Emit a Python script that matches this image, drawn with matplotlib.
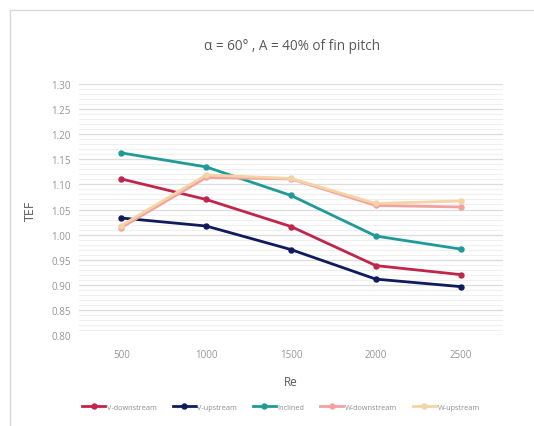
import numpy as np
import matplotlib.pyplot as plt
from matplotlib.lines import Line2D

plt.rcParams['font.family'] = ['Open Sans', 'DejaVu Sans']

# Data
re_labels = ['500', '1000', '1500', '2000', '2500']
v_down = [1.111, 1.070, 1.016, 0.938, 0.920]
v_up = [1.033, 1.017, 0.970, 0.911, 0.896]
inclined = [1.163, 1.135, 1.078, 0.997, 0.971]
w_down = [1.014, 1.114, 1.111, 1.058, 1.055]
w_up = [1.018, 1.119, 1.112, 1.062, 1.067]

series = [('V-downstream', v_down, '#C0264B'),
          ('V-upstream', v_up, '#0F1B5C'),
          ('Inclined', inclined, '#1F9A98'),
          ('W-downstream', w_down, '#F2A19E'),
          ('W-upstream', w_up, '#F4D3A6')]

W, H = 534, 427
fig = plt.figure(figsize=(W/100, H/100), dpi=100)
ax = fig.add_axes([79/W, 1-335.7/H, (503-79)/W, (335.7-85.3)/H])

x = np.arange(len(re_labels))
for name, vals, col in series:
    ax.plot(x, vals, '-o', color=col, lw=2.0, ms=3.6, label=name, zorder=3)

ax.set_xlim(-0.5, 4.5)
ax.set_ylim(0.80, 1.30)
ax.set_xticks(x)
ax.set_xticklabels(re_labels)
ax.set_yticks(np.arange(0.80, 1.301, 0.05))
ax.set_yticklabels(['%.2f' % v for v in np.arange(0.80, 1.301, 0.05)])
ax.set_yticks(np.arange(0.80, 1.30, 0.01), minor=True)
ax.grid(axis='y', which='major', color='#dcdcdc', lw=0.9)
ax.grid(axis='y', which='minor', color='#f0f0f0', lw=0.8)
ax.set_axisbelow(True)
for s in ax.spines.values():
    s.set_visible(False)
ax.tick_params(which='both', length=0, labelsize=7, colors='#959595', pad=6)
ax.tick_params(axis='x', pad=10)

ax.set_xlabel('Re', fontsize=8.5, color='#595959', labelpad=11)
ax.set_ylabel('TEF', fontsize=9, color='#595959', labelpad=10)
fig.text(292/W, 1-47/H, '\u03b1 = 60\u00b0 , A = 40% of fin pitch',
         ha='center', va='center', fontsize=9.8, color='#595959')

leg = fig.legend(loc='center', bbox_to_anchor=(281/W, 1-408/H), ncol=5,
                 frameon=False, fontsize=5.2, handlelength=3.2,
                 columnspacing=2.2, handletextpad=0.2, labelcolor='#8c8c8c')

# outer frame of the chart box
fig.add_artist(Line2D([10/W, 1], [1-11/H, 1-11/H], color='#d9d9d9', lw=1))
fig.add_artist(Line2D([10/W, 10/W], [0, 1-11/H], color='#d9d9d9', lw=1))

fig.savefig('out.png', dpi=100)
